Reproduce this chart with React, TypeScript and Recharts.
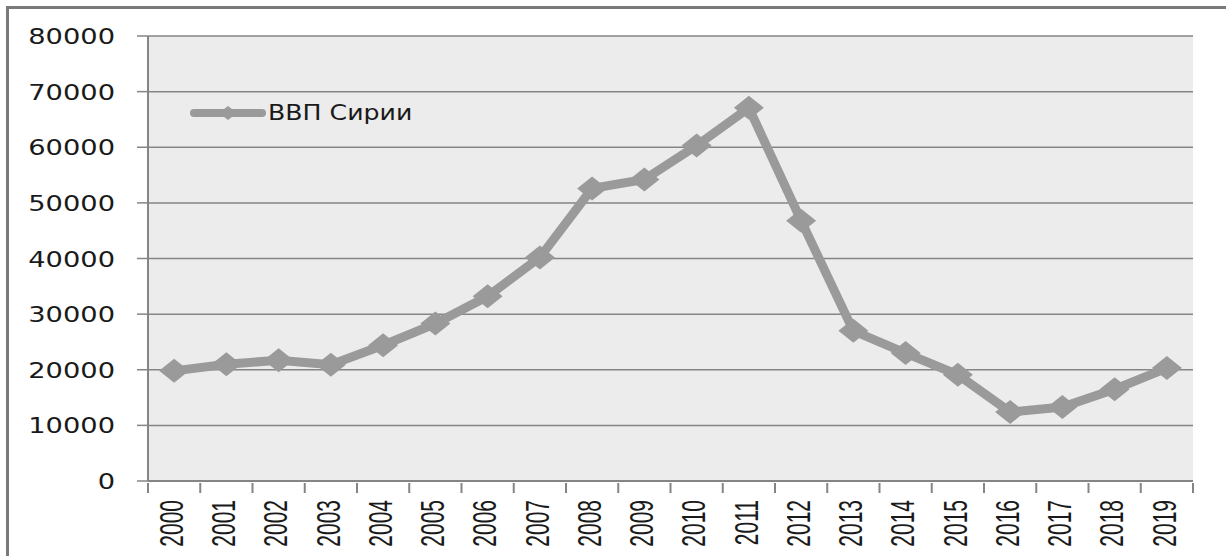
import { LineChart, Line, XAxis, YAxis, CartesianGrid } from "recharts";

const years = [
  "2000", "2001", "2002", "2003", "2004", "2005", "2006", "2007", "2008", "2009",
  "2010", "2011", "2012", "2013", "2014", "2015", "2016", "2017", "2018", "2019",
];

const gdpSyria = [
  19800, 21000, 21700, 20900, 24400, 28300, 33200, 40200, 52600, 54200,
  60300, 67100, 46800, 27000, 23000, 19100, 12400, 13300, 16500, 20300,
];

const yTicks = [0, 10000, 20000, 30000, 40000, 50000, 60000, 70000, 80000];

const seriesName = "ВВП Сирии";

const chartData = years.map((year, i) => ({ year, value: gdpSyria[i] }));

const LINE_COLOR = "#9a9a9a";
const GRID_COLOR = "#858585";
const BAND = 52.25; // width of one category on the x axis

const Diamond = (props: any) => {
  const { cx, cy } = props;
  if (cx == null || cy == null) return null;
  return (
    <polygon
      points={`${cx - 15},${cy} ${cx},${cy - 12} ${cx + 15},${cy} ${cx},${cy + 12}`}
      fill={LINE_COLOR}
    />
  );
};

const YTick = (props: any) => {
  const { y, payload } = props;
  return (
    <g transform={`translate(115, ${y}) scale(1.24, 1)`}>
      <text
        x={0}
        y={0}
        dy={8}
        textAnchor="end"
        fontFamily="DejaVu Sans"
        fontSize={22}
        fill="#1a1a1a"
      >
        {payload.value}
      </text>
    </g>
  );
};

const XTick = (props: any) => {
  const { x, y, payload, index } = props;
  return (
    <g>
      {index === 0 && (
        <line x1={x - BAND / 2} y1={y - 6} x2={x - BAND / 2} y2={y + 4} stroke={GRID_COLOR} strokeWidth={2} />
      )}
      <line x1={x + BAND / 2} y1={y - 6} x2={x + BAND / 2} y2={y + 4} stroke={GRID_COLOR} strokeWidth={2} />
      <g transform={`translate(${x}, ${y + 11}) scale(1.6, 1) rotate(-90)`}>
        <text
          x={0}
          y={0}
          dy={5.5}
          textAnchor="end"
          fontFamily="Liberation Sans"
          fontSize={21}
          fill="#1a1a1a"
        >
          {payload.value}
        </text>
      </g>
    </g>
  );
};

const LegendBox = () => (
  <div
    style={{
      position: "absolute",
      left: 189,
      top: 101,
      display: "flex",
      alignItems: "center",
      pointerEvents: "none",
    }}
  >
    <svg width={78} height={22}>
      <line x1={5} y1={11} x2={73} y2={11} stroke={LINE_COLOR} strokeWidth={8} strokeLinecap="round" />
      <polygon points="30,11 39,4 48,11 39,18" fill={LINE_COLOR} />
    </svg>
    <span
      style={{
        fontFamily: "DejaVu Sans",
        fontSize: 21,
        color: "#1a1a1a",
        display: "inline-block",
        transform: "scale(1.2, 1)",
        transformOrigin: "left center",
        marginLeft: 1,
        whiteSpace: "nowrap",
      }}
    >
      {seriesName}
    </span>
  </div>
);

export default function App() {
  return (
    <div
      style={{
        position: "absolute",
        left: 0,
        top: 0,
        width: 1226,
        height: 556,
        background: "#ffffff",
        overflow: "hidden",
      }}
    >
      <div
        style={{
          position: "absolute",
          left: 6,
          top: 6,
          width: 1240,
          height: 580,
          borderTop: "3px solid #7a7a7a",
          borderLeft: "3px solid #7a7a7a",
        }}
      />
      <LineChart
        width={1226}
        height={556}
        data={chartData}
        margin={{ top: 36, right: 33, left: 8, bottom: 0 }}
      >
        <CartesianGrid
          vertical={false}
          stroke={GRID_COLOR}
          strokeWidth={1.5}
          fill="#ececec"
        />
        <XAxis
          dataKey="year"
          height={75}
          interval={0}
          padding={{ left: BAND / 2, right: BAND / 2 }}
          tickLine={false}
          axisLine={{ stroke: GRID_COLOR, strokeWidth: 2 }}
          tick={<XTick />}
        />
        <YAxis
          width={140}
          domain={[0, 80000]}
          ticks={yTicks}
          interval={0}
          tickSize={11}
          tickLine={{ stroke: GRID_COLOR, strokeWidth: 1.5 }}
          axisLine={{ stroke: GRID_COLOR, strokeWidth: 2 }}
          tick={<YTick />}
        />
        <Line
          type="linear"
          dataKey="value"
          name={seriesName}
          stroke={LINE_COLOR}
          strokeWidth={9}
          dot={<Diamond />}
          activeDot={false}
          isAnimationActive={false}
        />
      </LineChart>
      <LegendBox />
    </div>
  );
}
